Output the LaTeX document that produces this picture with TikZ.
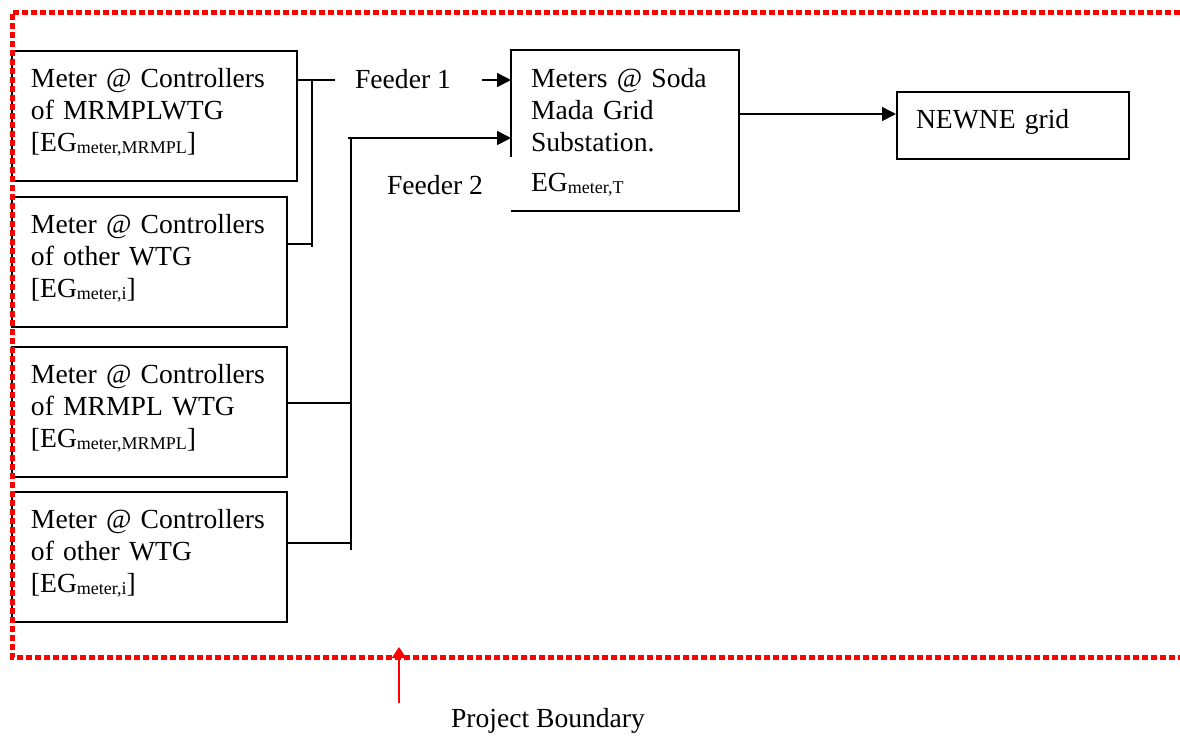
\documentclass[tikz,border=0pt]{standalone}
\usepackage{fontspec}
\setmainfont{Liberation Serif}
\usepackage{tikz}
\usetikzlibrary{arrows.meta,calc}
\newcommand{\EGsub}[1]{EG\raisebox{-1pt}[\height][0pt]{\fontsize{9}{9}\selectfont #1}}

\begin{document}
\begin{tikzpicture}[x=0.5pt,y=-0.5pt]
  \tikzset{meter/.style = {draw, line width=1pt, anchor=north west, text width=#1, align=left,
      inner xsep=9.5pt, inner ysep=0pt, minimum height=65pt, font=\fontsize{13.8}{16}\selectfont}}
  \tikzset{meter/.default = 118.5pt}
  \tikzset{lowpad/.style = {execute at end node={\rule[-6.5pt]{0pt}{0pt}}}}
  \tikzset{txt/.style = {inner sep=0pt, font=\fontsize{13.8}{16}\selectfont}}
  \tikzset{wire/.style = {line width=0.8pt}}
  \tikzset{arrow/.style = {wire, -{Triangle[length=7pt,width=7pt]}}}
  \tikzset{boundary/.style = {red, line width=2.5pt, dash pattern=on 3pt off 1.5pt}}

  \useasboundingbox (0,0) rectangle (1180,736);

  % meters
  \node[meter=123.5pt, lowpad] (m1) at (11,50) {Meter @ Controllers\\ of MRMPLWTG\\ {[}\EGsub{meter,MRMPL}]};
  \node[meter, lowpad] (m2) at (11,196) {Meter @ Controllers\\ of other WTG\\ {[}\EGsub{meter,i}]};
  \node[meter, lowpad] (m3) at (11,346) {Meter @ Controllers\\ of MRMPL WTG\\ {[}\EGsub{meter,MRMPL}]};
  \node[meter, lowpad] (m4) at (11,491) {Meter @ Controllers\\ of other WTG\\ {[}\EGsub{meter,i}]};
  \node[meter=94pt, draw=none, minimum height=79.5pt] (soda) at (511,50)
    {Meters @ Soda\\ Mada Grid\\ Substation.\\[4pt] \EGsub{meter,T}};
  \node[meter=97pt, lowpad, minimum height=33.5pt] (grid) at (896,91) {NEWNE grid};

  % soda box, open at the lower left
  \coordinate (sodacut) at (511,157);
  \draw[line width=1pt] (soda.west |- sodacut) -- (soda.north west) -- (soda.north east)
    -- (soda.south east) -- (soda.south west);

  % labels
  \node[txt] (f1) at (403,79) {Feeder 1};
  \node[txt] (f2) at (435,185) {Feeder 2};
  \node[txt] (pb) at (548,721) {Project Boundary};

  % feeder 1
  \coordinate (f1top) at (312,80);
  \coordinate (f1low) at (312,247);
  \coordinate (f1end) at (335,80);
  \coordinate (f1in) at (482,80);
  \coordinate (j2) at (312,244);
  \draw[wire] (m1.east |- f1end) -- (f1end);
  \draw[wire] (f1top) -- (f1low);
  \draw[wire] (m2.east |- j2) -- (j2);
  \draw[arrow] (f1in) -- (soda.west |- f1in);

  % feeder 2
  \coordinate (f2top) at (351,138);
  \coordinate (f2low) at (351,550);
  \coordinate (j3) at (351,403);
  \coordinate (j4) at (351,543);
  \draw[wire] (f2top) -- (f2low);
  \draw[arrow] ($(f2top)+(-3,0)$) -- (soda.west |- f2top);
  \foreach \y in {3,4} {\draw[wire] (m\y.east |- j\y) -- (j\y);}

  % to grid
  \coordinate (sg) at (800,114);
  \draw[arrow] (soda.east |- sg) -- (grid.west |- sg);

  % project boundary
  \draw[boundary] (1180,12) -- (12,12) -- (12,657) -- (1180,657);
  \coordinate (pbtail) at (399,703);
  \coordinate (pbtip) at (399,647);
  \draw[red, line width=1pt, -{Triangle[length=5.5pt,width=7pt]}] (pbtail) -- (pbtip);
\end{tikzpicture}
\end{document}
